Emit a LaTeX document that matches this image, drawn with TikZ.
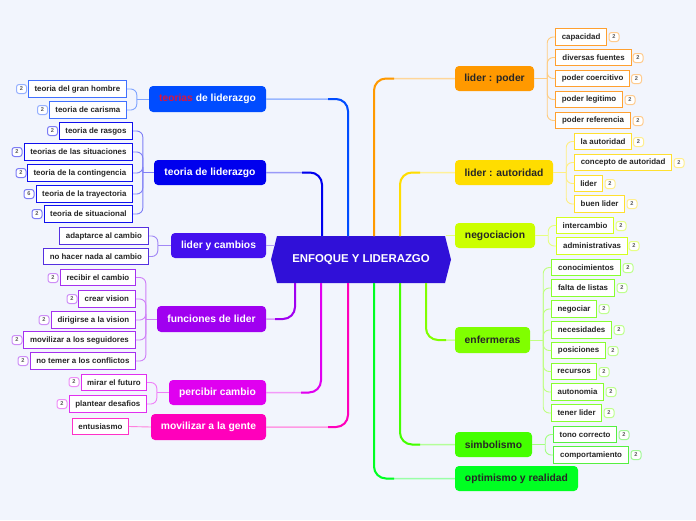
\documentclass[tikz,border=0pt]{standalone}
\usepackage{fontspec}
\setmainfont{Liberation Sans}
\usetikzlibrary{calc}
\definecolor{bg}{HTML}{F2F5FD}
\definecolor{ctr}{HTML}{3010D8}
\definecolor{txt}{HTML}{262626}
\definecolor{redt}{HTML}{DC143C}
\definecolor{cA}{HTML}{004CFF}
\definecolor{cB}{HTML}{0000EE}
\definecolor{cC}{HTML}{4410EE}
\definecolor{cD}{HTML}{A000F0}
\definecolor{cE}{HTML}{E000F0}
\definecolor{cF}{HTML}{FF00BB}
\definecolor{cG}{HTML}{FF9900}
\definecolor{cH}{HTML}{FFDD00}
\definecolor{cI}{HTML}{CCFF00}
\definecolor{cJ}{HTML}{80FF00}
\definecolor{cK}{HTML}{44FF00}
\definecolor{cL}{HTML}{00FF22}
\definecolor{bA}{HTML}{4070FF}
\definecolor{bB}{HTML}{1010EE}
\definecolor{bC}{HTML}{5530E0}
\definecolor{bD}{HTML}{A530F0}
\definecolor{bE}{HTML}{E030F0}
\definecolor{bF}{HTML}{FF30C8}
\definecolor{bG}{HTML}{FFA030}
\definecolor{bH}{HTML}{FFE030}
\definecolor{bI}{HTML}{D4FF20}
\definecolor{bJ}{HTML}{88FF30}
\definecolor{bK}{HTML}{55F040}
\tikzset{
  mainbox/.style 2 args={fill=#1, text=#2, rounded corners=4pt, minimum height=25pt, inner sep=0pt, font=\bfseries\fontsize{10.3}{12}\selectfont},
  chbox/.style={draw=#1, fill=white, line width=1.2pt, minimum height=16.5pt, inner sep=0pt, font=\bfseries\fontsize{7.9}{9}\selectfont, text=txt},
  badge/.style={draw=#1!55, fill=white, rounded corners=2.5pt, line width=1pt, minimum width=10pt, minimum height=9pt, inner sep=0pt, font=\bfseries\fontsize{5.6}{6}\selectfont, text=black!65},
  brk/.style={draw=#1!50, line width=0.9pt, rounded corners=6pt},
}
% left child: name, border, xl, xr, y, text
\newcommand\lch[6]{\node[chbox=#2, anchor=east, minimum width={(#4-#3)*1pt}] (#1) at (#4,#5) {#6};}
\newcommand\rch[6]{\node[chbox=#2, anchor=west, minimum width={(#4-#3)*1pt}] (#1) at (#3,#5) {#6};}
% badge: name, color, x, y, text
\newcommand\bdg[5]{\node[badge=#2] (#1) at (#3,#4) {#5};}
% main connector: start, target anchor, color, sign
\newcommand\mconn[4]{%
  \draw[line width=1.5pt, #3!40, rounded corners=12pt] (#1) |- (#2);
  \draw[line width=2pt, #3, rounded corners=12pt] (#1) |- ($(#2 -| #1)+(#4 20,0)$);}
\begin{document}
\begin{tikzpicture}[x=1pt,y=-1pt]
\fill[bg] (0,0) rectangle (696,520);
\useasboundingbox (0,0) rectangle (696,520);

% centre
\fill[ctr] (271,259.5) -- (277,236) -- (445,236) -- (451,259.5) -- (445,283) -- (277,283) -- cycle;
\node[text=white, font=\bfseries\fontsize{11.4}{13}\selectfont, minimum width=180pt, minimum height=47pt, inner sep=0pt] (c) at (361,259.5) {ENFOQUE Y LIDERAZGO};

% main nodes left
\node[mainbox={cA}{white}, minimum width=117pt, minimum height=26pt] (tl1) at (207.5,99) {\textcolor{redt}{teorias} de liderazgo};
\node[mainbox={cB}{white}, minimum width=112pt] (tl2) at (210,172.5) {teoria de liderazgo};
\node[mainbox={cC}{white}, minimum width=95pt] (lc) at (218.5,245.5) {lider y cambios};
\node[mainbox={cD}{white}, minimum width=109pt, minimum height=26pt] (fl) at (211.5,319) {funciones de lider};
\node[mainbox={cE}{white}, minimum width=97pt] (pc) at (217.5,392.5) {percibir cambio};
\node[mainbox={cF}{white}, minimum width=115pt, minimum height=26pt] (mg) at (208.5,427) {movilizar a la gente};
% main nodes right
\node[mainbox={cG}{txt}, minimum width=79pt] (lp) at (494.5,78.5) {lider : poder};
\node[mainbox={cH}{txt}, minimum width=98pt] (la) at (504,172.5) {lider : autoridad};
\node[mainbox={cI}{txt}, minimum width=80pt] (ng) at (495,235.5) {negociacion};
\node[mainbox={cJ}{txt}, minimum width=75pt, minimum height=26pt] (en) at (492.5,340) {enfermeras};
\node[mainbox={cK}{txt}, minimum width=77pt] (sb) at (493.5,444.5) {simbolismo};
\node[mainbox={cL}{txt}, minimum width=123pt] (op) at (516.5,478.5) {optimismo y realidad};

% main connectors
\coordinate (t1) at (322,236); \coordinate (t2) at (348,236);
\coordinate (t3) at (374,236); \coordinate (t4) at (400,236);
\coordinate (b1) at (295,283); \coordinate (b2) at (321,283);
\coordinate (b3) at (348,283); \coordinate (b4) at (374,283);
\coordinate (b5) at (400,283); \coordinate (b6) at (426,283);
\mconn{t1}{tl2.east}{cB}{-}
\mconn{t2}{tl1.east}{cA}{-}
\mconn{t3}{lp.west}{cG}{+}
\mconn{t4}{la.west}{cH}{+}
\mconn{b1}{fl.east}{cD}{-}
\mconn{b2}{pc.east}{cE}{-}
\mconn{b3}{mg.east}{cF}{-}
\mconn{b4}{op.west}{cL}{+}
\mconn{b5}{sb.west}{cK}{+}
\mconn{b6}{en.west}{cJ}{+}
\coordinate (sl) at (274.5,245.5); \coordinate (sr) at (445.5,235.5);
\draw[line width=1.5pt, cC!40] (lc.east) -- (sl);
\draw[line width=1.5pt, cI!50] (sr) -- (ng.west);

% group teorias de liderazgo
\lch{a1}{bA}{29}{127}{89}{teoria del gran hombre}
\lch{a2}{bA}{50}{127}{110}{teoria de carisma}
\bdg{a1b}{bA}{21.5}{89}{2}
\bdg{a2b}{bA}{42.5}{110}{2}
\coordinate (ja) at ($(tl1.west)+(-12,0)$);
\draw[brk=cA] (tl1.west) -- (ja);
\foreach \n in {a1,a2} \draw[brk=cA] (ja) |- (\n.east);

% group teoria de liderazgo
\lch{b1n}{bB}{60}{133}{131}{teoria de rasgos}
\lch{b2n}{bB}{25}{133}{152}{teorias de las situaciones}
\lch{b3n}{bB}{28}{133}{173}{teoria de la contingencia}
\lch{b4n}{bB}{37}{133}{194}{teoria de la trayectoria}
\lch{b5n}{bB}{45}{133}{214}{teoria de situacional}
\bdg{b1b}{bB}{52.5}{131}{2}
\bdg{b2b}{bB}{17}{152}{2}
\bdg{b3b}{bB}{21}{173}{2}
\bdg{b4b}{bB}{29}{194}{6}
\bdg{b5b}{bB}{37}{214}{2}
\coordinate (jb) at ($(tl2.west)+(-11,0)$);
\draw[brk=cB] (tl2.west) -- (jb);
\foreach \n in {b1n,b2n,b3n,b4n,b5n} \draw[brk=cB] (jb) |- (\n.east);

% group lider y cambios
\lch{c1}{bC}{60}{149}{236}{adaptarce al cambio}
\lch{c2}{bC}{44}{149}{256.5}{no hacer nada al cambio}
\coordinate (jc) at ($(lc.west)+(-13,0)$);
\draw[brk=cC] (lc.west) -- (jc);
\foreach \n in {c1,c2} \draw[brk=cC] (jc) |- (\n.east);

% group funciones de lider
\lch{d1}{bD}{61}{136}{277.5}{recibir el cambio}
\lch{d2}{bD}{79}{136}{299}{crear vision}
\lch{d3}{bD}{52}{136}{320}{dirigirse a la vision}
\lch{d4}{bD}{24}{136}{340}{movilizar a los seguidores}
\lch{d5}{bD}{31}{136}{361}{no temer a los conflictos}
\bdg{d1b}{bD}{53}{278}{2}
\bdg{d2b}{bD}{72}{299}{2}
\bdg{d3b}{bD}{44}{320}{2}
\bdg{d4b}{bD}{17}{340}{2}
\bdg{d5b}{bD}{23}{361}{2}
\coordinate (jd) at ($(fl.west)+(-11,0)$);
\draw[brk=cD] (fl.west) -- (jd);
\foreach \n in {d1,d2,d3,d4,d5} \draw[brk=cD] (jd) |- (\n.east);

% group percibir cambio
\lch{e1}{bE}{82}{147}{382.5}{mirar el futuro}
\lch{e2}{bE}{70}{147}{404}{plantear desafios}
\bdg{e1b}{bE}{74}{382}{2}
\bdg{e2b}{bE}{62}{404}{2}
\coordinate (je) at ($(pc.west)+(-12,0)$);
\draw[brk=cE] (pc.west) -- (je);
\foreach \n in {e1,e2} \draw[brk=cE] (je) |- (\n.east);

% group movilizar
\lch{f1}{bF}{73}{129}{426.5}{entusiasmo}
\draw[brk=cF] (mg.west) -- (f1.east);

% group lider : poder
\rch{g1}{bG}{555}{606}{37}{capacidad}
\rch{g2}{bG}{555}{631}{57.5}{diversas fuentes}
\rch{g3}{bG}{555}{629}{78.5}{poder coercitivo}
\rch{g4}{bG}{555}{622}{99.5}{poder legitimo}
\rch{g5}{bG}{555}{630}{120.5}{poder referencia}
\bdg{g1b}{bG}{614}{37}{2}
\bdg{g2b}{bG}{638}{58}{2}
\bdg{g3b}{bG}{636.5}{79}{2}
\bdg{g4b}{bG}{630}{100}{2}
\bdg{g5b}{bG}{638}{121}{2}
\coordinate (jg) at ($(lp.east)+(13,0)$);
\draw[brk=cG] (lp.east) -- (jg);
\foreach \n in {g1,g2,g3,g4,g5} \draw[brk=cG] (jg) |- (\n.west);

% group lider : autoridad
\rch{h1}{bH}{574}{631}{141.5}{la autoridad}
\rch{h2}{bH}{574}{671}{162.5}{concepto de autoridad}
\rch{h3}{bH}{574}{602}{183.5}{lider}
\rch{h4}{bH}{574}{624}{204}{buen lider}
\bdg{h1b}{bH}{638.5}{142}{2}
\bdg{h2b}{bH}{679}{163}{2}
\bdg{h3b}{bH}{610}{184}{2}
\bdg{h4b}{bH}{632}{204}{2}
\coordinate (jh) at ($(la.east)+(13,0)$);
\draw[brk=cH] (la.east) -- (jh);
\foreach \n in {h1,h2,h3,h4} \draw[brk=cH] (jh) |- (\n.west);

% group negociacion
\rch{i1}{bI}{556}{613}{225.5}{intercambio}
\rch{i2}{bI}{556}{627}{246}{administrativas}
\bdg{i1b}{bI}{621}{226}{2}
\bdg{i2b}{bI}{634}{246}{2}
\coordinate (ji) at ($(ng.east)+(13,0)$);
\draw[brk=cI] (ng.east) -- (ji);
\foreach \n in {i1,i2} \draw[brk=cI] (ji) |- (\n.west);

% group enfermeras
\rch{j1}{bJ}{551}{620}{267.5}{conocimientos}
\rch{j2}{bJ}{551}{614}{288}{falta de listas}
\rch{j3}{bJ}{551}{596}{309}{negociar}
\rch{j4}{bJ}{551}{611}{330}{necesidades}
\rch{j5}{bJ}{551}{605}{350.5}{posiciones}
\rch{j6}{bJ}{551}{596}{371.5}{recursos}
\rch{j7}{bJ}{551}{603}{392}{autonomia}
\rch{j8}{bJ}{551}{601}{413}{tener lider}
\bdg{j1b}{bJ}{628}{268}{2}
\bdg{j2b}{bJ}{622}{288}{2}
\bdg{j3b}{bJ}{604}{309}{2}
\bdg{j4b}{bJ}{619}{330}{2}
\bdg{j5b}{bJ}{613}{351}{2}
\bdg{j6b}{bJ}{604}{372}{2}
\bdg{j7b}{bJ}{611}{392}{2}
\bdg{j8b}{bJ}{609}{413}{2}
\coordinate (jj) at ($(en.east)+(13,0)$);
\draw[brk=cJ] (en.east) -- (jj);
\foreach \n in {j1,j2,j3,j4,j5,j6,j7,j8} \draw[brk=cJ] (jj) |- (\n.west);

% group simbolismo
\rch{k1}{bK}{553}{616}{434.5}{tono correcto}
\rch{k2}{bK}{553}{628}{455}{comportamiento}
\bdg{k1b}{bK}{624}{435}{2}
\bdg{k2b}{bK}{636}{455}{2}
\coordinate (jk) at ($(sb.east)+(13,0)$);
\draw[brk=cK] (sb.east) -- (jk);
\foreach \n in {k1,k2} \draw[brk=cK] (jk) |- (\n.west);
\end{tikzpicture}
\end{document}
